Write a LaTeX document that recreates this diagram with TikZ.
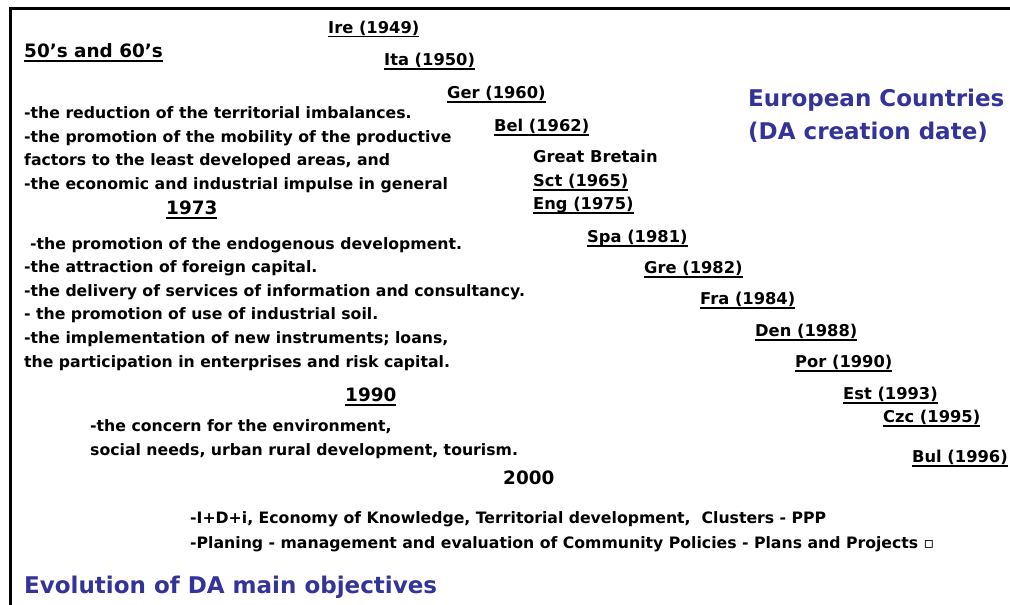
\documentclass[tikz,border=0pt]{standalone}
\usepackage{fontspec}
\newfontfamily\dafont{DejaVu Sans}
\definecolor{dablue}{RGB}{51,51,153}
\newcommand\undr[1]{\setbox0\hbox{#1}\rlap{\rule[-4.5pt]{\wd0}{1.6pt}}\box0}
\tikzset{
  country/.style={anchor=base west, inner sep=0pt, font=\dafont\bfseries\fontsize{16.3}{18}\selectfont},
  objlist/.style={anchor=base west, inner sep=0pt, align=left, font=\dafont\bfseries\fontsize{15.7}{23.4}\selectfont},
  period/.style={anchor=base west, inner sep=0pt, font=\dafont\bfseries\fontsize{18.4}{20}\selectfont},
  caption/.style={anchor=base west, inner sep=0pt, align=left, text=dablue, font=\dafont\bfseries\fontsize{23}{33}\selectfont}
}
\begin{document}
\begin{tikzpicture}[x=1pt,y=-1pt]
  \useasboundingbox (0,0) rectangle (1010,605);
  \draw[line width=3pt] (10,606) -- (10,8) -- (1010,8);

  \begin{scope}[every node/.style={country}]
    \node (ire) at (328,33)  {\undr{Ire (1949)}};
    \node (ita) at (384,65)  {\undr{Ita (1950)}};
    \node (ger) at (447,98)  {\undr{Ger (1960)}};
    \node (bel) at (494,131) {\undr{Bel (1962)}};
    \node (gb)  at (533,162) {Great Bretain};
    \node (sct) at (533,186) {\undr{Sct (1965)}};
    \node (eng) at (533,209) {\undr{Eng (1975)}};
    \node (spa) at (587,242) {\undr{Spa (1981)}};
    \node (gre) at (644,273) {\undr{Gre (1982)}};
    \node (fra) at (700,304) {\undr{Fra (1984)}};
    \node (den) at (755,336) {\undr{Den (1988)}};
    \node (por) at (795,367) {\undr{Por (1990)}};
    \node (est) at (843,399) {\undr{Est (1993)}};
    \node (czc) at (883,422) {\undr{Czc (1995)}};
    \node (bul) at (912,462) {\undr{Bul (1996)}};
  \end{scope}

  \begin{scope}[every node/.style={period}]
    \node (p50) at (24,57)   {\undr{50’s and 60’s}};
    \node (p73) at (166,214) {\undr{1973}};
    \node (p90) at (345,401) {\undr{1990}};
    \node (p00) at (503,484) {2000};
  \end{scope}

  % anchor base = baseline of the last line
  \begin{scope}[every node/.style={objlist}]
    \node (obj50) at (24,189) {-the reduction of the territorial imbalances.\\
      -the promotion of the mobility of the productive\\
      factors to the least developed areas, and\\
      -the economic and industrial impulse in general};
    \node[font=\dafont\bfseries\fontsize{15.7}{23.6}\selectfont] (obj73) at (24,367) {\hspace*{6pt}-the promotion of the endogenous development.\\
      -the attraction of foreign capital.\\
      -the delivery of services of information and consultancy.\\
      - the promotion of use of industrial soil.\\
      -the implementation of new instruments; loans,\\
      the participation in enterprises and risk capital.};
    \node[font=\dafont\bfseries\fontsize{15.7}{24}\selectfont] (obj90) at (90,455) {-the concern for the environment,\\
      social needs, urban rural development, tourism.};
    \node[font=\dafont\bfseries\fontsize{15.7}{25}\selectfont] (obj00) at (190,548) {-I+D+i, Economy of Knowledge, Territorial development,\ \ Clusters - PPP\\
      -Planing - management and evaluation of Community Policies - Plans and Projects ▫};
  \end{scope}

  \begin{scope}[every node/.style={caption}]
    \node (euro) at (748,139) {European Countries\\(DA creation date)};
    \node (evo)  at (24,593)  {Evolution of DA main objectives};
  \end{scope}

\end{tikzpicture}
\end{document}
